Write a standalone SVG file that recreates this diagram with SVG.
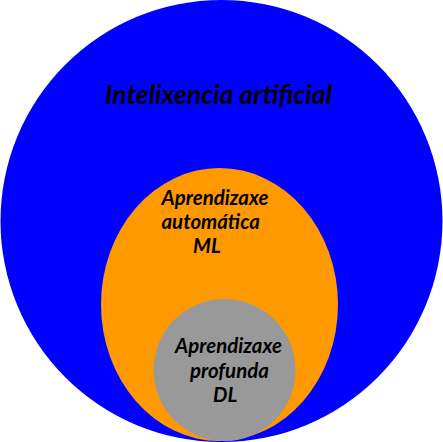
<svg xmlns="http://www.w3.org/2000/svg" width="443" height="442" viewBox="0 0 443 442">
<style>
.t{font-family:Lato,"Open Sans","DejaVu Sans",sans-serif;font-weight:bold;font-style:italic;fill:#000}
</style>
<rect width="443" height="442" fill="#fff"/>
<g id="ia">
<circle cx="221.5" cy="221" r="221" fill="#0000ff"/>
<text class="t" x="105" y="104" font-size="26.5">Intelixencia artificial</text>
</g>
<g id="ml">
<ellipse cx="219.5" cy="304.5" rx="118.5" ry="136.5" fill="#ff9900"/>
<text class="t" font-size="20.4"><tspan x="161.5" y="205">Aprendizaxe</tspan><tspan x="161.5" y="229">automática</tspan><tspan x="193" y="253">ML</tspan></text>
</g>
<g id="dl">
<circle cx="224.5" cy="370" r="71" fill="#999999"/>
<text class="t" font-size="20.4"><tspan x="175" y="353">Aprendizaxe</tspan><tspan x="190" y="378">profunda</tspan><tspan x="213" y="402">DL</tspan></text>
</g>
<g id="connectors"/>
</svg>
